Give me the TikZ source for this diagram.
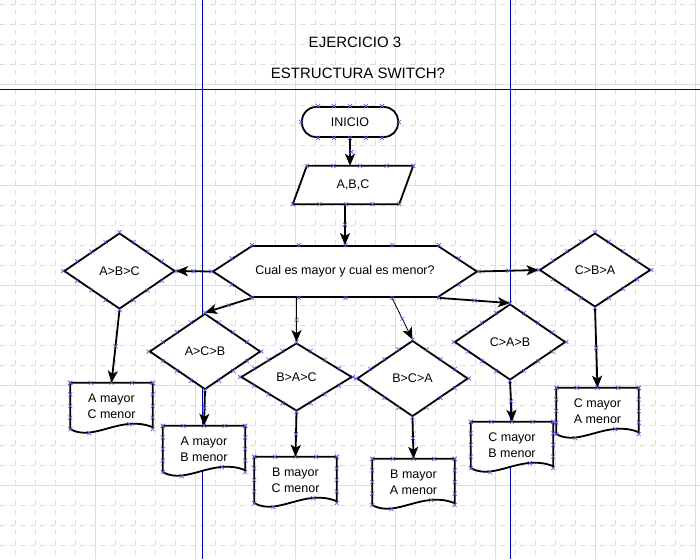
\documentclass[tikz,border=0pt]{standalone}
\usepackage{fontspec}
\setmainfont{Liberation Sans}
\usetikzlibrary{arrows.meta,shapes.geometric,shapes.symbols,calc,backgrounds}

\definecolor{gridgray}{RGB}{214,223,220}
\definecolor{guideblue}{RGB}{0,0,170}
\definecolor{markblue}{RGB}{90,90,225}
\newcommand{\flowfont}{\fontsize{12.5pt}{16pt}\selectfont}

\tikzset{
  shape line/.style={draw=black,line width=1.8pt,fill=white,font=\flowfont,inner sep=0pt},
  title/.style={font=\fontsize{15pt}{18pt}\selectfont},
  terminal/.style={shape line,rectangle,rounded corners=14pt,minimum width=96pt,minimum height=30pt},
  data box/.style={rectangle,minimum width=106pt,minimum height=38pt,inner sep=0pt,font=\flowfont},
  switch box/.style={shape line,signal,signal to=west and east,signal pointer angle=66.4,
    minimum width=264pt,minimum height=51pt},
  decision/.style={shape line,diamond,minimum width=111pt,minimum height=76pt},
  result/.style={rectangle,minimum width=82pt,minimum height=46pt,inner sep=0pt,align=center,font=\flowfont},
  flow/.style={line width=1.8pt,-{Stealth[length=12pt,width=10pt,inset=3pt]}},
  thin flow/.style={flow,line width=0.8pt},
  cp/.pic={\draw[markblue,line width=0.6pt] (-2,-2) -- (2,2) (-2,2) -- (2,-2);}
}

% outline of a document box, wavy bottom edge
\newcommand{\docline}[1]{%
  \begin{scope}[on background layer]
    \draw[line width=1.8pt,fill=white] (#1.south west) -- (#1.north west) -- (#1.north east)
      -- ($(#1.south east)+(0,-2)$)
      .. controls ($(#1.south east)+(-32,-15)$) and ($(#1.south west)+(24,13)$) .. (#1.south west) -- cycle;
  \end{scope}}

\begin{document}
\begin{tikzpicture}[x=1pt,y=-1pt]
\useasboundingbox (0,0) rectangle (700,559);

% grid and guide lines
\begin{scope}[on background layer]
  \fill[white] (0,0) rectangle (700,559);
  \foreach \gx in {15,35,...,695}
    \draw[gridgray,line width=1pt,dash pattern=on 5pt off 5pt] (\gx,0) -- (\gx,559);
  \foreach \gy in {5,25,...,545}
    \draw[gridgray,line width=1pt,dash pattern=on 5pt off 5pt] (0,\gy) -- (700,\gy);
  \foreach \gx in {95,195,...,695}
    \draw[gridgray,line width=1pt] (\gx,0) -- (\gx,559);
  \foreach \gy in {85,185,...,485}
    \draw[gridgray,line width=1pt] (0,\gy) -- (700,\gy);
  \draw[guideblue,line width=1pt] (0,90) -- (700,90) (202,0) -- (202,559) (510,0) -- (510,559);
\end{scope}

\node[title] (title1) at (355,42) {EJERCICIO 3};
\node[title] (title2) at (358,73) {ESTRUCTURA SWITCH?};

\node[terminal] (inicio) at (350,122) {INICIO};
\node[data box] (abc) at (353,185) {A,B,C};
\coordinate (abcTL) at ($(abc.north west)+(7,0)$);
\coordinate (abcTR) at ($(abc.north east)+(7,0)$);
\coordinate (abcBL) at ($(abc.south west)+(-7,0)$);
\coordinate (abcBR) at ($(abc.south east)+(-7,0)$);
\begin{scope}[on background layer]
  \draw[line width=1.8pt,fill=white] (abcBL) -- (abcTL) -- (abcTR) -- (abcBR) -- cycle;
\end{scope}
\node[switch box] (hex) at (345,271.5) {Cual es mayor y cual es menor?};

\coordinate (hexTL) at ($(hex.north)+(-93,0)$);
\coordinate (hexTR) at ($(hex.north)+(94,0)$);
\coordinate (hexBL) at ($(hex.south)+(-93,0)$);
\coordinate (hexBR) at ($(hex.south)+(94,0)$);
\coordinate (hexBM) at ($(hex.south)+(47,0)$);
\coordinate (abcB) at (hex.north |- abc.south);

\node[decision] (d1) at (119.5,271) {A>B>C};
\node[decision] (d2) at (205,351.5) {A>C>B};
\node[decision,minimum height=68pt] (d3) at (296.5,377) {B>A>C};
\node[decision] (d4) at (412.5,378.5) {B>C>A};
\node[decision] (d5) at (510,342) {C>A>B};
\node[decision,minimum height=74pt] (d6) at (595,270) {C>B>A};
\coordinate (hexB3) at (d3.north |- hex.south);

\node[result] (doc1) at (111.5,406) {A mayor\\C menor};
\node[result] (doc2) at (204,449) {A mayor\\B menor};
\node[result] (doc3) at (295.5,480) {B mayor\\C menor};
\node[result] (doc4) at (413.5,482) {B mayor\\A menor};
\node[result] (doc5) at (512,445) {C mayor\\B menor};
\node[result] (doc6) at (597.5,411) {C mayor\\A menor};
\foreach \dn in {doc1,doc2,doc3,doc4,doc5,doc6}
  \docline{\dn};

\draw[flow] (inicio.south) -- (inicio.south |- abc.north);
\draw[flow] (abcB) -- (hex.north);
\draw[flow] (hex.west) -- (d1.east);
\draw[flow] (hex.east) -- (d6.west);
\draw[flow] (hexBL) -- (d2.north);
\draw[flow] (hexB3) -- (d3.north);
\draw[thin flow] (hexBM) -- (d4.north);
\draw[flow] (hexBR) -- (d5.north);
\draw[flow] (d1.south) -- (doc1.north);
\draw[flow] (d2.south) -- (doc2.north);
\draw[flow] (d3.south) -- (doc3.north);
\draw[flow] (d4.south) -- (doc4.north);
\draw[flow] (d5.south) -- (doc5.north);
\draw[flow] (d6.south) -- (doc6.north);

% connection points
\foreach \dn in {d1,d2,d3,d4,d5,d6}
  \foreach \pa/\pb in {west/north,north/east,east/south,south/west}
    \foreach \ps in {0,0.25,0.5,0.75}
      \pic at ($(\dn.\pa)!\ps!(\dn.\pb)$) {cp};
\foreach \dn in {doc1,doc2,doc3,doc4,doc5,doc6} {
  \foreach \ps in {0,0.25,0.5,0.75,1} {
    \pic at ($(\dn.north west)!\ps!(\dn.north east)$) {cp};
    \pic at ($(\dn.north west)!\ps!(\dn.south west)$) {cp};
    \pic at ($(\dn.north east)!\ps!(\dn.south east)$) {cp};
  }
  \pic at ($(\dn.south west)+(19,4)$) {cp};
  \pic at ($(\dn.south west)+(59,-5)$) {cp};
}
\foreach \ps in {0,0.25,0.5,0.75,1} {
  \pic at ($(hexTL)!\ps!(hexTR)$) {cp};
  \pic at ($(hexBL)!\ps!(hexBR)$) {cp};
  \pic at ($(abcTL)!\ps!(abcTR)$) {cp};
  \pic at ($(abcBL)!\ps!(abcBR)$) {cp};
}
\foreach \pa/\pb in {hex.west/hexTL,hex.west/hexBL,hex.east/hexTR,hex.east/hexBR}
  \pic at ($(\pa)!0.5!(\pb)$) {cp};
\foreach \ps in {-32,-16,0,16,32} {
  \pic at ($(inicio.north)+(\ps,0)$) {cp};
  \pic at ($(inicio.south)+(\ps,0)$) {cp};
}
\foreach \pa in {inicio.west,inicio.east,hex.west,hex.east}
  \pic at (\pa) {cp};
\foreach \pa/\pb in {inicio.south/abc.north,abcB/hex.north,hex.west/d1.east,hex.east/d6.west,
    hexBL/d2.north,hexB3/d3.north,hexBM/d4.north,hexBR/d5.north,d1.south/doc1.north,
    d2.south/doc2.north,d3.south/doc3.north,d4.south/doc4.north,d5.south/doc5.north,d6.south/doc6.north}
  \pic at ($(\pa)!0.5!(\pb)$) {cp};
\end{tikzpicture}
\end{document}
